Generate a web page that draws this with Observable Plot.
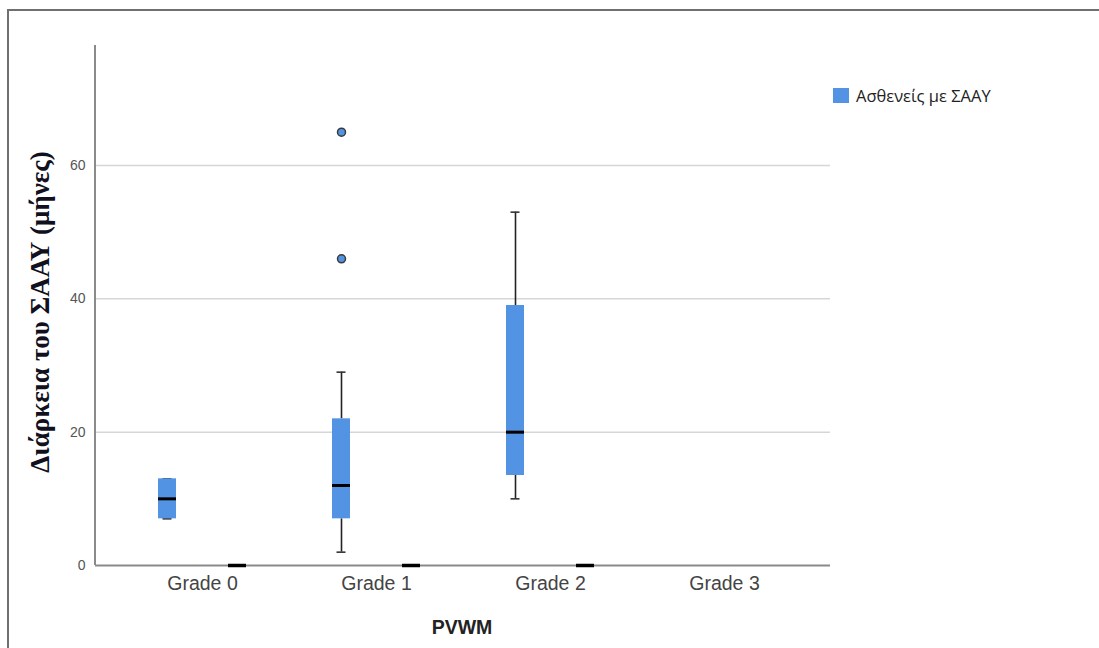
<!DOCTYPE html>
<html>
<head>
<meta charset="utf-8">
<script src="https://cdn.jsdelivr.net/npm/d3@7"></script>
<script src="https://cdn.jsdelivr.net/npm/@observablehq/plot@0.6"></script>
<style>
  html, body { margin: 0; padding: 0; background: #fff; overflow: hidden; }
  #wrap { position: relative; width: 1099px; height: 648px; }
  #frame { position: absolute; left: 7px; top: 9px; width: 1200px; height: 800px; border: 2px solid #707070; box-sizing: border-box; }
  #chart { position: absolute; left: 0; top: 0; }
  #legend { position: absolute; left: 833px; top: 84px; font-family: "Open Sans", sans-serif; font-size: 16.5px; color: #222; display: flex; align-items: center; gap: 7px; }
  #legend .sw { width: 16px; height: 15px; background: #5393e4; }
</style>
</head>
<body>
<div id="wrap">
  <div id="frame"></div>
  <div id="chart"></div>
  <div id="legend"><span class="sw"></span><span>Ασθενείς με ΣΑΑΥ</span></div>
</div>
<script>
// Categories
const grades = ["Grade 0", "Grade 1", "Grade 2", "Grade 3"];
// Patients with ΣΑΑΥ: box statistics per grade
const whiskerLow = [7, 2, 10, null];
const q1 = [7, 7, 13.5, null];
const median = [10, 12, 20, null];
const q3 = [13, 22, 39, null];
const whiskerHigh = [13, 29, 53, null];
// Outliers
const outlierGrades = ["Grade 1", "Grade 1"];
const outlierValues = [65, 46];
// Second (unlabelled) series: median values
const otherMedian = [0, 0, 0, null];
// Tick labels
const yTicks = [0, 20, 40, 60];

const blue = "#5393e4";
const stats = grades.map((g, i) => ({grade: g, lo: whiskerLow[i], q1: q1[i], med: median[i], q3: q3[i], hi: whiskerHigh[i]}))
  .filter(d => d.med != null);
const others = grades.map((g, i) => ({grade: g, med: otherMedian[i]})).filter(d => d.med != null);
const outliers = outlierGrades.map((g, i) => ({grade: g, value: outlierValues[i]}));

const off = 35, boxInset = 78, capInset = 82.5;

const plot = Plot.plot({
  width: 1099,
  height: 648,
  marginLeft: 95,
  marginRight: 269,
  marginTop: 45,
  marginBottom: 83,
  style: {fontFamily: "'Liberation Sans', Arial, sans-serif", background: "transparent"},
  x: {type: "band", domain: grades, paddingInner: 0, paddingOuter: 0.106, label: null},
  y: {domain: [0, 78], label: null},
  marks: [
    Plot.ruleY(yTicks.filter(t => t > 0), {stroke: "#d6d6d6", strokeWidth: 1.5, strokeOpacity: 1}),
    Plot.axisY({ticks: yTicks, tickSize: 0, tickPadding: 10, fontSize: 14, fill: "#555", label: null}),
    Plot.axisX({tickSize: 0, tickPadding: 11, fontSize: 19.5, fill: "#444", label: null}),
    Plot.ruleY([0], {stroke: "#8a8a8a", strokeWidth: 2}),
    // whiskers
    Plot.ruleX(stats, {x: "grade", y1: "lo", y2: "q1", dx: -off, stroke: "#222", strokeWidth: 1.6}),
    Plot.ruleX(stats, {x: "grade", y1: "q3", y2: "hi", dx: -off, stroke: "#222", strokeWidth: 1.6}),
    Plot.tickY(stats, {x: "grade", y: "lo", dx: -off, insetLeft: capInset, insetRight: capInset, stroke: "#333", strokeWidth: 1.6}),
    Plot.tickY(stats, {x: "grade", y: "hi", dx: -off, insetLeft: capInset, insetRight: capInset, stroke: "#333", strokeWidth: 1.6}),
    // boxes
    Plot.barY(stats, {x: "grade", y1: "q1", y2: "q3", dx: -off, insetLeft: boxInset, insetRight: boxInset, fill: blue}),
    Plot.tickY(stats, {x: "grade", y: "med", dx: -off, insetLeft: boxInset, insetRight: boxInset, stroke: "#000", strokeWidth: 3}),
    // outliers
    Plot.dot(outliers, {x: "grade", y: "value", dx: -off, r: 4, fill: blue, stroke: "#3a3a3a", strokeWidth: 1.5}),
    // second series (all zero)
    Plot.tickY(others, {x: "grade", y: "med", dx: off, insetLeft: boxInset, insetRight: boxInset, stroke: "#000", strokeWidth: 3.5})
  ]
});

const svg = d3.select(plot);
const ys = plot.scale("y");
// y axis line
svg.append("line")
  .attr("x1", 95).attr("x2", 95)
  .attr("y1", ys.range[0]).attr("y2", ys.range[1])
  .attr("stroke", "#8a8a8a").attr("stroke-width", 2);
// axis titles
svg.append("text")
  .attr("transform", "translate(43,312) rotate(-90)")
  .attr("text-anchor", "middle")
  .attr("dominant-baseline", "middle")
  .attr("font-family", "'Liberation Serif', 'Times New Roman', serif")
  .attr("font-weight", "bold")
  .attr("font-size", 27)
  .attr("fill", "#101020")
  .text("Διάρκεια του ΣΑΑΥ (μήνες)");
svg.append("text")
  .attr("x", 462).attr("y", 634)
  .attr("text-anchor", "middle")
  .attr("font-family", "'Liberation Sans', Arial, sans-serif")
  .attr("font-weight", "bold")
  .attr("font-size", 19.5)
  .attr("fill", "#222")
  .text("PVWM");

document.getElementById("chart").appendChild(plot);
</script>
</body>
</html>
